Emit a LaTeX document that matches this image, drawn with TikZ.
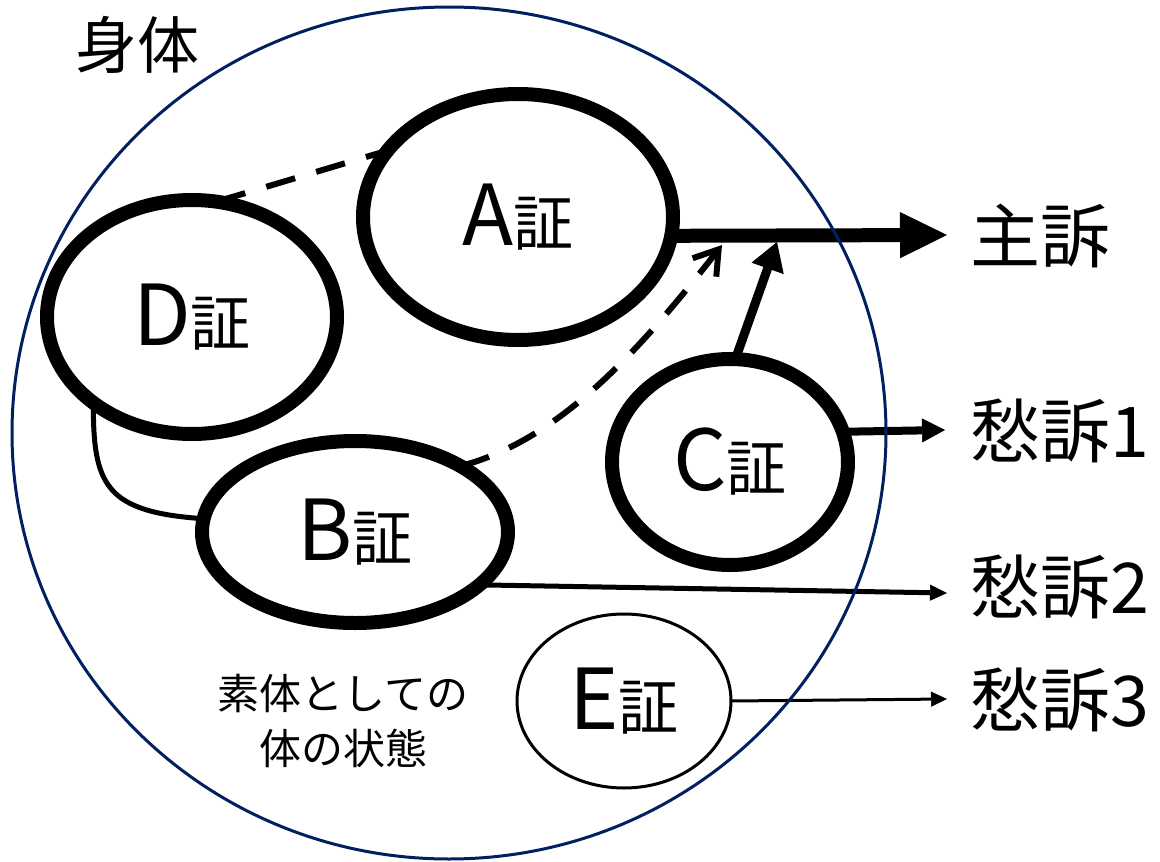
\documentclass[tikz,border=0pt]{standalone}
\usepackage{fontspec}
\setmainfont{Noto Sans CJK JP}
\usetikzlibrary{arrows.meta,shapes.geometric}
\definecolor{navy}{HTML}{002060}
\newcommand{\evlab}[1]{{\fontsize{84}{84}\selectfont #1}{\fontsize{60}{60}\selectfont 証}}
\begin{document}
\begin{tikzpicture}[x=1pt,y=-1pt,
  ev/.style={ellipse, draw, line width=14pt, inner sep=0pt, outer sep=0pt, fill=white},
  evthin/.style={ellipse, draw, line width=3pt, inner sep=0pt, outer sep=0pt, fill=white},
  big/.style={font=\fontsize{70}{80}\selectfont, inner sep=0pt, anchor=west},
  dashline/.style={line width=6pt, dash pattern=on 30pt off 22pt},
  thinarrow/.style={line width=5pt, -{Triangle[length=17pt,width=16pt,line width=0.5pt]}}
]
\useasboundingbox (0,0) rectangle (1160,862);
\fill[white] (0,0) rectangle (1160,862);

% evidence ellipses
\node[ev, minimum width=310pt, minimum height=246pt] (A) at (518,217) {\evlab{A}};
\node[ev, minimum width=290pt, minimum height=234pt] (D) at (192,317) {\evlab{D}};
\node[ev, minimum width=306pt, minimum height=182pt] (B) at (355,532) {\evlab{B}};
\node[ev, minimum width=236pt, minimum height=206pt] (C) at (730,462) {\evlab{C}};
\node[evthin, minimum width=214pt, minimum height=174pt] (E) at (624,701) {\evlab{E}};

% labels
\node[font=\fontsize{62}{70}\selectfont, inner sep=0pt] (shintai) at (137,45) {身体};
\node[font=\fontsize{42}{55}\selectfont, inner sep=0pt, align=center] (sotai) at (343,721) {素体としての\\体の状態};
\node[big] (s0) at (970,236) {主訴};
\node[big] (s1) at (970,431) {愁訴1};
\node[big] (s2) at (970,587) {愁訴2};
\node[big] (s3) at (970,700) {愁訴3};

\coordinate (join) at (777,242);
\coordinate (tipB) at (722,245);

% connectors
\draw[line width=14pt, -{Triangle[length=47pt,width=46pt,line width=1pt]}]
  (A.-7) -- ([xshift=-23pt,yshift=1pt]s0.west);
\draw[line width=9pt, -{Triangle[length=28pt,width=34pt,line width=1pt]}]
  (C.87) -- (join);
\draw[dashline] (D.78) -- (A.153);
\draw[dashline, -{Straight Barb[length=23pt,width=30pt]}]
  (B.32) .. controls (560,440) and (640,350) .. (tipB);
\draw[line width=5pt] (D.-139) .. controls (93,485) and (105,512) .. (B.175);
\draw[line width=8pt, -{Triangle[length=23pt,width=24pt,line width=0.5pt]}]
  (C.15) -- ([xshift=-25pt,yshift=1pt]s1.west);
\draw[thinarrow] (B.-23) -- ([xshift=-23pt,yshift=-6pt]s2.west);
\draw[line width=3pt, -{Triangle[length=16pt,width=15pt,line width=0.5pt]}]
  (E.east) -- ([xshift=-23pt,yshift=1pt]s3.west);

% body circle
\node[draw=navy, line width=3pt, ellipse, minimum width=874pt, minimum height=852pt, inner sep=0pt] (body) at (449,433) {};
\end{tikzpicture}
\end{document}
